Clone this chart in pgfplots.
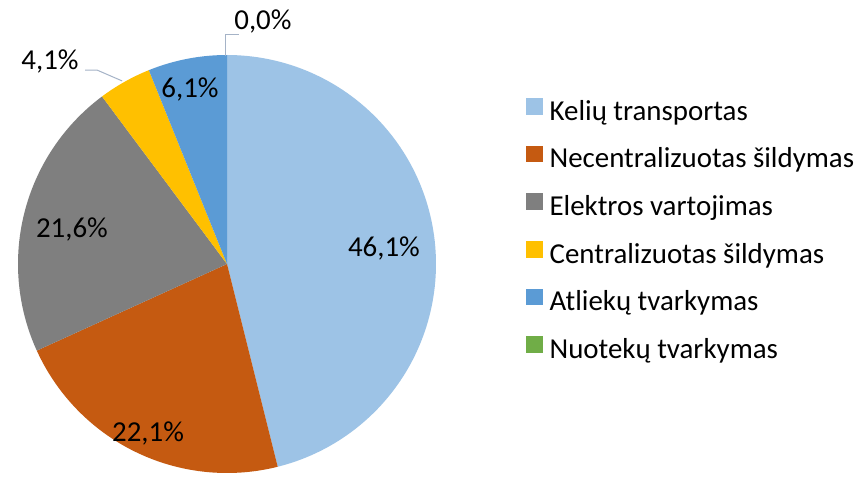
\documentclass[border=0pt]{standalone}
\usepackage{pgfplots}
\pgfplotsset{compat=1.18}
\usepackage{fontspec}
\setmainfont{Carlito}
\definecolor{cKel}{HTML}{9DC3E6}
\definecolor{cNec}{HTML}{C55A11}
\definecolor{cEle}{HTML}{7F7F7F}
\definecolor{cCen}{HTML}{FFC000}
\definecolor{cAtl}{HTML}{5B9BD5}
\definecolor{cNuo}{HTML}{70AD47}
\definecolor{cLead}{HTML}{A5B3C7}
% values (percent)
\def\vKel{46.1}
\def\vNec{22.1}
\def\vEle{21.6}
\def\vCen{4.1}
\def\vAtl{6.1}
\def\vNuo{0.0}
\pgfmathsetmacro\aA{90}
\pgfmathsetmacro\aB{\aA-3.6*\vKel}
\pgfmathsetmacro\aC{\aB-3.6*\vNec}
\pgfmathsetmacro\aD{\aC-3.6*\vEle}
\pgfmathsetmacro\aE{\aD-3.6*\vCen}
\pgfmathsetmacro\aF{\aE-3.6*\vAtl}
\newcommand\lf{\fontsize{29}{34}\selectfont}
\begin{document}
\begin{tikzpicture}
\fill[white] (0,0) rectangle (862bp,478bp);
\useasboundingbox (0,0) rectangle (862bp,478bp);
\begin{axis}[
  hide axis, clip=false,
  x=209bp, y=209bp,
  xmin=-1, xmax=1, ymin=-1, ymax=1,
  anchor=origin, at={(227bp,214bp)},
  area legend,
  legend image code/.code={\fill[#1] (0bp,-2bp) rectangle (16.7bp,14.7bp);},
  legend style={draw=none, fill=none, at={(axis cs:1.415,0.805)}, anchor=north west,
    font=\lf, row sep=19.5bp,
    nodes={inner sep=0pt, text height=21bp, text depth=6bp},
    /tikz/every odd column/.append style={column sep=7bp}},
  legend cell align=left,
]
\addplot[draw=none, fill=cKel, domain=\aB:\aA, samples=120, variable=\t] ({cos(\t)},{sin(\t)}) -- (axis cs:0,0) -- cycle;
\addlegendentry{Kelių transportas}
\addplot[draw=none, fill=cNec, domain=\aC:\aB, samples=80, variable=\t] ({cos(\t)},{sin(\t)}) -- (axis cs:0,0) -- cycle;
\addlegendentry{Necentralizuotas šildymas}
\addplot[draw=none, fill=cEle, domain=\aD:\aC, samples=80, variable=\t] ({cos(\t)},{sin(\t)}) -- (axis cs:0,0) -- cycle;
\addlegendentry{Elektros vartojimas}
\addplot[draw=none, fill=cCen, domain=\aE:\aD, samples=30, variable=\t] ({cos(\t)},{sin(\t)}) -- (axis cs:0,0) -- cycle;
\addlegendentry{Centralizuotas šildymas}
\addplot[draw=none, fill=cAtl, domain=\aF:\aE, samples=30, variable=\t] ({cos(\t)},{sin(\t)}) -- (axis cs:0,0) -- cycle;
\addlegendentry{Atliekų tvarkymas}
\addlegendimage{fill=cNuo, draw=none}
\addlegendentry{Nuotekų tvarkymas}
% leader lines
\draw[cLead, line width=1pt] (axis cs:-0.679,0.928) -- (axis cs:-0.622,0.928) -- (axis cs:-0.502,0.876);
\draw[cLead, line width=1pt] (axis cs:-0.005,0.995) -- (axis cs:-0.005,1.10) -- (axis cs:0.057,1.10);
% labels
\node[font=\lf] at (axis cs:0.751,0.072) {46,1\%};
\node[font=\lf] at (axis cs:-0.378,-0.809) {22,1\%};
\node[font=\lf] at (axis cs:-0.742,0.163) {21,6\%};
\node[font=\lf] at (axis cs:-0.177,0.833) {6,1\%};
\node[font=\lf] at (axis cs:-0.847,0.967) {4,1\%};
\node[font=\lf] at (axis cs:0.172,1.160) {0,0\%};
\end{axis}
\end{tikzpicture}
\end{document}
